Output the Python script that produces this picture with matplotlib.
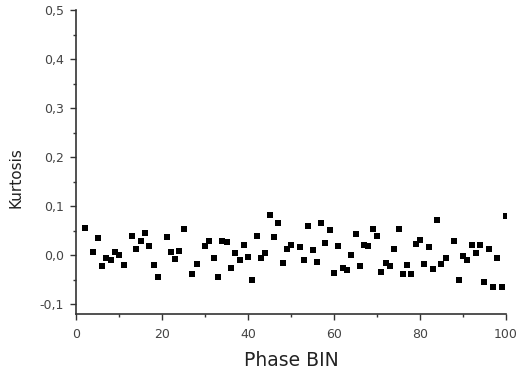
"""Kurtosis per phase bin, scatter of square markers"""
import matplotlib
matplotlib.use('Agg')
from matplotlib import pyplot as plt
from matplotlib.ticker import MultipleLocator, FuncFormatter

phase_bin = [2, 4, 5, 6, 7, 8, 9, 10, 11, 13, 14, 15, 16, 17, 18, 19,
             21, 22, 23, 24, 25, 27, 28, 30, 31, 32, 33, 34, 35, 36, 37,
             38, 39, 40, 41, 42, 43, 44, 45, 46, 47, 48, 49, 50, 52, 53,
             54, 55, 56, 57, 58, 59, 60, 61, 62, 63, 64, 65, 66, 67, 68,
             69, 70, 71, 72, 73, 74, 75, 76, 77, 78, 79, 80, 81, 82, 83,
             84, 85, 86, 88, 89, 90, 91, 92, 93, 94, 95, 96, 97, 98, 99, 100]
kurtosis = [0.055, 0.007, 0.035, -0.023, -0.005, -0.010, 0.007, 0.000,
            -0.021, 0.039, 0.012, 0.029, 0.045, 0.018, -0.020, -0.045,
            0.037, 0.006, -0.007, 0.008, 0.053, -0.038, -0.019, 0.018,
            0.029, -0.006, -0.045, 0.029, 0.027, -0.027, 0.005, -0.009,
            0.021, -0.003, -0.051, 0.039, -0.005, 0.005, 0.081, 0.036,
            0.066, -0.016, 0.012, 0.020, 0.017, -0.009, 0.060, 0.010,
            -0.015, 0.065, 0.024, 0.052, -0.036, 0.019, -0.026, -0.031,
            0.000, 0.044, -0.023, 0.020, 0.018, 0.054, 0.039, -0.035,
            -0.017, -0.023, 0.012, 0.054, -0.039, -0.020, -0.039, 0.022,
            0.031, -0.019, 0.017, -0.028, 0.071, -0.018, -0.005, 0.029,
            -0.050, -0.002, -0.009, 0.021, 0.004, 0.021, -0.055, 0.012,
            -0.064, -0.006, -0.065, 0.080]


def comma(v, pos):
    """Tick label with decimal comma"""
    return ('%.1f' % v).replace('.', ',')


def main():
    """main function"""
    plt.rcParams['font.family'] = 'DejaVu Sans'
    fig = plt.figure(figsize=(5.17, 3.72), dpi=100)
    ax = fig.add_axes([0.1476, 0.156, 0.831, 0.817])
    ax.plot(phase_bin, kurtosis, 's', color='black', markersize=4.8,
            markeredgewidth=0)
    ax.set_xlim(0, 100)
    ax.set_ylim(-0.12, 0.5)
    ax.spines['top'].set_visible(False)
    ax.spines['right'].set_visible(False)
    for s in ('left', 'bottom'):
        ax.spines[s].set_linewidth(1.2)
        ax.spines[s].set_color('#333333')
    ax.xaxis.set_major_locator(MultipleLocator(20))
    ax.xaxis.set_minor_locator(MultipleLocator(10))
    ax.yaxis.set_major_locator(MultipleLocator(0.1))
    ax.yaxis.set_minor_locator(MultipleLocator(0.05))
    ax.yaxis.set_major_formatter(FuncFormatter(comma))
    ax.tick_params(which='major', length=4, width=1, color='#333333',
                   labelsize=9, labelcolor='#444444')
    ax.tick_params(which='minor', length=2.5, width=1, color='#333333')
    ax.tick_params(axis='y', which='major', pad=5)
    ax.tick_params(axis='x', which='major', pad=6)
    ax.set_xlabel('Phase BIN', fontsize=13.5, color='#222222')
    ax.set_ylabel('Kurtosis', fontsize=11, color='#222222')
    ax.xaxis.set_label_coords(0.5, -0.122)
    ax.yaxis.set_label_coords(-0.123, 0.45)
    fig.savefig('out.png', dpi=100)


if __name__ == '__main__':
    main()
